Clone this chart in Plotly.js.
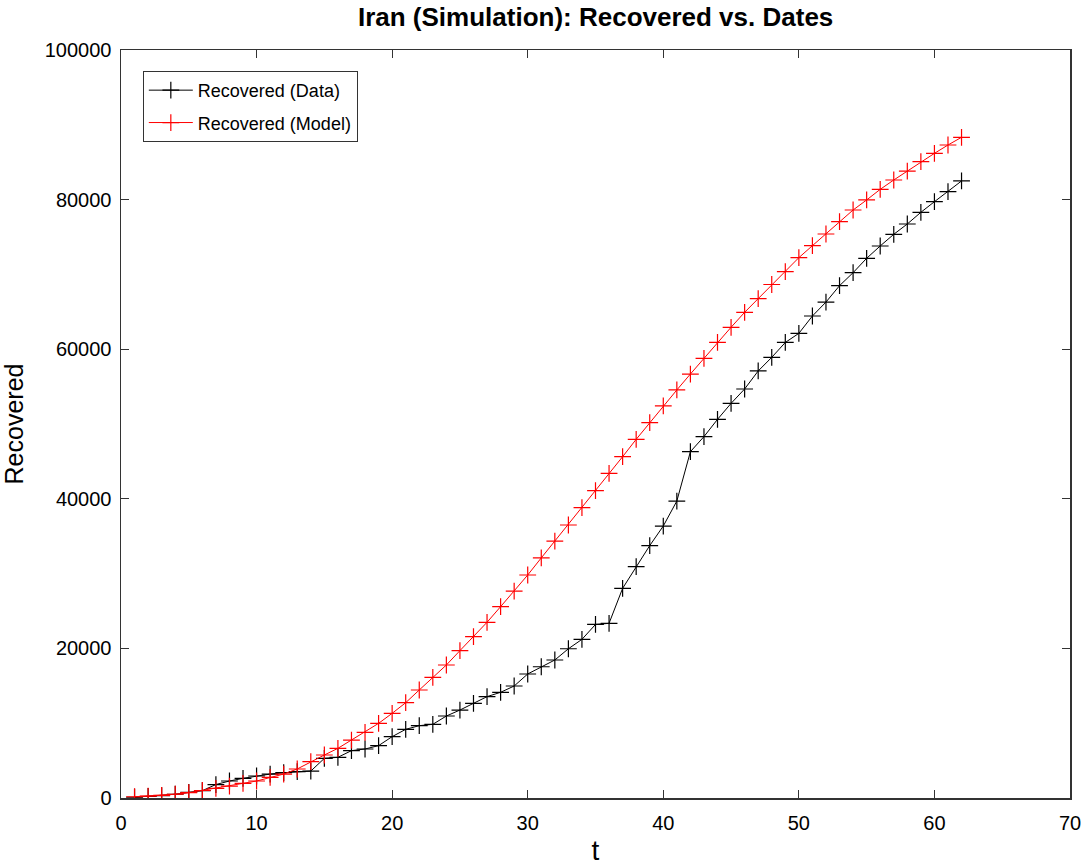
<!DOCTYPE html>
<html>
<head>
<meta charset="utf-8">
<script src="https://cdn.plot.ly/plotly-3.0.1.min.js"></script>
<style>html,body{margin:0;padding:0;background:#fff;}#chart{width:1081px;height:866px;}</style>
</head>
<body>
<div id="chart"></div>
<script>
const t = Array.from({length: 62}, (_, i) => i + 1);
const recoveredData = [
  100, 200, 300, 500, 750, 980, 1800, 2270, 2630, 2940,
  3200, 3380, 3520, 3600, 5300, 5440, 6330, 6550, 7000, 8200,
  9180, 9670, 9850, 10960, 11760, 12650, 13550, 14130, 14970, 16580,
  17550, 18450, 19950, 21210, 23200, 23350, 28030, 30930, 33740, 36360,
  39700, 46300, 48310, 50620, 52760, 54680, 57090, 58910, 60900, 62120,
  64440, 66300, 68490, 70230, 72150, 73800, 75360, 76740, 78300, 79720,
  81060, 82490
];
const recoveredModel = [
  170, 250, 350, 500, 710, 1000, 1290, 1600, 1960, 2270,
  2760, 3200, 3880, 4850, 5750, 6640, 7750, 8780, 9980, 11320,
  12740, 14440, 16130, 17780, 19700, 21570, 23490, 25580, 27670, 29810,
  32100, 34350, 36500, 38810, 41090, 43400, 45630, 47950, 50180, 52410,
  54550, 56680, 58780, 60920, 62930, 64930, 66750, 68650, 70370, 72240,
  73840, 75400, 77050, 78610, 79950, 81370, 82620, 83820, 85070, 86180,
  87300, 88330
];
const seriesNames = ['Recovered (Data)', 'Recovered (Model)'];
const xTicks = [0, 10, 20, 30, 40, 50, 60, 70];
const yTicks = [0, 20000, 40000, 60000, 80000, 100000];

const font = 'Liberation Sans, Arial, sans-serif';
function trace(y, name, color, grp) {
  return {
    x: t, y: y, name: name, type: 'scatter', mode: 'lines+markers', legendgroup: grp,
    line: {color: color, width: 1},
    marker: {symbol: 'cross-thin', size: 12, color: color, line: {color: color, width: 1.2}}
  };
}
const data = [
  trace(recoveredData, seriesNames[0], '#000000', 'a'),
  trace(recoveredModel, seriesNames[1], '#ff0000', 'b')
];
const axisCommon = {
  showgrid: false, zeroline: false, showline: true, linecolor: '#333', linewidth: 1.5,
  mirror: 'ticks', ticks: 'inside', ticklen: 8, tickcolor: '#333', tickwidth: 1,
  tickfont: {family: font, size: 20, color: '#000'}, ticklabeloverflow: 'allow'
};
const layout = {
  width: 1081, height: 866,
  margin: {l: 121, r: 11, t: 50, b: 68},
  paper_bgcolor: '#fff', plot_bgcolor: '#fff',
  title: {text: '<b>Iran (Simulation): Recovered vs. Dates</b>', font: {family: font, size: 26, color: '#000'},
    xref: 'container', yref: 'container', x: 0.551, xanchor: 'center', y: 0.981, yanchor: 'middle'},
  xaxis: Object.assign({}, axisCommon, {range: [0, 70], tickvals: xTicks, ticktext: xTicks.map(String), ticklabelstandoff: 6,
    title: {text: 't', font: {family: font, size: 28, color: '#000'}, standoff: 10}}),
  yaxis: Object.assign({}, axisCommon, {range: [0, 100000], tickvals: yTicks, ticktext: yTicks.map(String), ticklabelstandoff: 4,
    title: {text: 'Recovered', font: {family: font, size: 25, color: '#000'}, standoff: 18}}),
  showlegend: true,
  legend: {x: 0.023, y: 0.972, xanchor: 'left', yanchor: 'top', bgcolor: '#fff', bordercolor: '#333', borderwidth: 1,
    font: {family: font, size: 18, color: '#000'}, tracegroupgap: 6, itemwidth: 44}
};
Plotly.newPlot('chart', data, layout, {displayModeBar: false, staticPlot: true});
</script>
</body>
</html>
